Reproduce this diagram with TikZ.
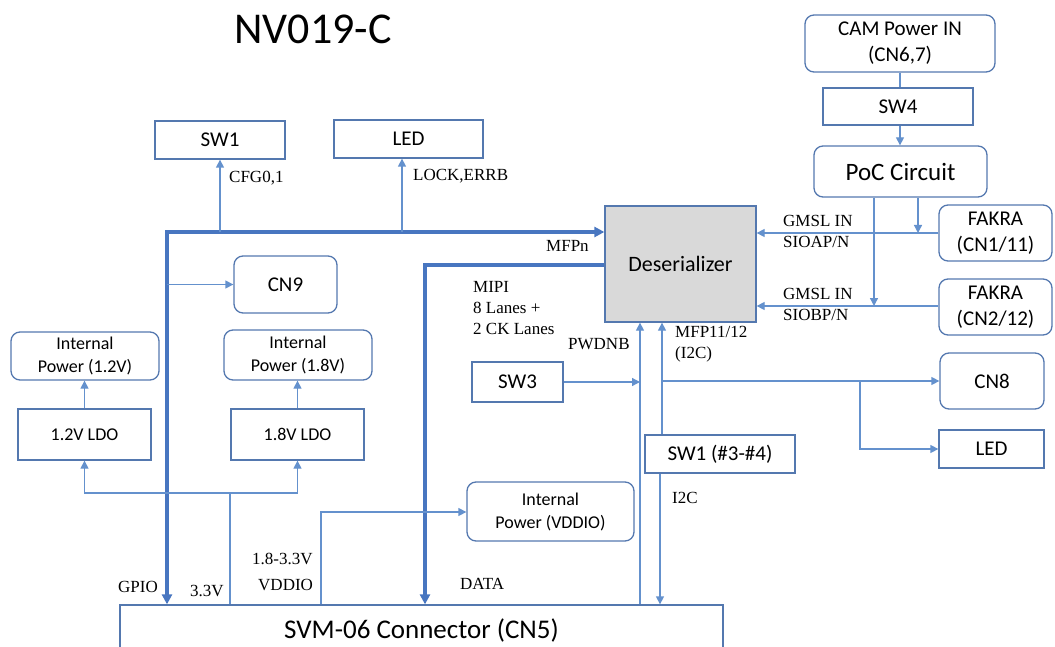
\documentclass[tikz,border=0pt]{standalone}
\usepackage{fontspec}
\setmainfont{Carlito}
\newfontfamily\tms{Liberation Serif}
\usetikzlibrary{arrows.meta,calc}
\definecolor{boxc}{RGB}{84,120,175}
\definecolor{linec}{RGB}{100,145,205}
\definecolor{thickc}{RGB}{72,118,192}
\begin{document}
\begin{tikzpicture}[x=1pt,y=-1pt,
  box/.style={draw=boxc, line width=1.3pt, font=\fontsize{21}{26}\selectfont, align=center, inner sep=0pt},
  rbox/.style={box, rounded corners=9pt},
  sbox/.style={box, font=\fontsize{18}{23}\selectfont},
  srbox/.style={rbox, font=\fontsize{18}{23}\selectfont},
  lbl/.style={font=\tms\fontsize{17}{21}\selectfont, anchor=west, inner sep=0pt, align=left},
  ln/.style={draw=linec, line width=1.3pt},
  arr/.style={ln, -{Triangle[length=8pt,width=8pt]}},
  thk/.style={draw=thickc, line width=3.5pt},
  tip/.tip={Triangle[length=10pt,width=10pt]}
]
\useasboundingbox (0,0) rectangle (1055,647);
% title
\node[font=\fontsize{44}{50}\selectfont, inner sep=0pt] (title) at (313,29) {NV019-C};
% boxes
\node[box, minimum width=130pt, minimum height=38pt] (sw1) at (220,140) {SW1};
\node[box, minimum width=149pt, minimum height=38pt] (led1) at (408.5,139) {LED};
\node[rbox, minimum width=103pt, minimum height=57pt] (cn9) at (285.5,284.5) {CN9};
\node[srbox, minimum width=148pt, minimum height=48pt] (ip12) at (85,356) {Internal\\Power (1.2V)};
\node[srbox, minimum width=148pt, minimum height=50pt] (ip18) at (298,355) {Internal\\Power (1.8V)};
\node[sbox, minimum width=133pt, minimum height=51pt] (ldo12) at (84.5,434.5) {1.2V LDO};
\node[sbox, minimum width=133pt, minimum height=51pt] (ldo18) at (297.5,434.5) {1.8V LDO};
\node[box, fill=gray!30, font=\fontsize{22}{26}\selectfont, minimum width=151pt, minimum height=116pt] (des) at (680.5,264) {Deserializer};
\node[rbox, minimum width=190pt, minimum height=57pt] (cam) at (900,43.5) {CAM Power IN\\(CN6,7)};
\node[box, minimum width=150pt, minimum height=37pt] (sw4) at (898,106.5) {SW4};
\node[rbox, font=\fontsize{25}{28}\selectfont, minimum width=173pt, minimum height=51pt] (poc) at (900.5,171.5) {PoC Circuit};
\node[rbox, minimum width=113pt, minimum height=56pt] (fak1) at (995.5,233) {FAKRA\\(CN1/11)};
\node[rbox, minimum width=113pt, minimum height=56pt] (fak2) at (995.5,307) {FAKRA\\(CN2/12)};
\node[box, minimum width=91pt, minimum height=40pt] (sw3) at (517.5,382) {SW3};
\node[rbox, minimum width=104pt, minimum height=56pt] (cn8) at (992,381) {CN8};
\node[box, minimum width=105pt, minimum height=38pt] (led2) at (991.5,449) {LED};
\node[box, minimum width=150pt, minimum height=38pt] (sw1b) at (720,454) {SW1 (\#3-\#4)};
\node[srbox, minimum width=167pt, minimum height=59pt] (ipv) at (550.5,511.5) {Internal\\Power (VDDIO)};
\node[box, font=\fontsize{27}{30}\selectfont, minimum width=603pt, minimum height=50pt] (svm) at (421.5,630) {SVM-06 Connector (CN5)};
% coordinates
\coordinate (bus) at (167,232);
\coordinate (ledtap) at (402,232);
\coordinate (mipi) at (425,265);
\coordinate (v33) at (230,493);
\coordinate (vio) at (321,512);
\coordinate (pwd) at (640,382);
\coordinate (mfp) at (662,381);
\coordinate (br) at (860,381);
\coordinate (i2cx) at (660,0);
\coordinate (pa) at (918,233);
\coordinate (pb) at (874,306);
% thick buses
\draw[thk, {tip}-{tip}] (svm.north -| bus) -- (bus) -- (des.west |- bus);
\draw[thk, -{tip}] (des.west |- mipi) -- (mipi) -- (mipi |- svm.north);
% thin connectors
\draw[arr] (bus -| sw1.south) -- (sw1.south);
\draw[arr] (ledtap) -- (ledtap |- led1.south);
\draw[arr] (bus |- cn9.west) -- (cn9.west);
\draw[arr] (v33 |- svm.north) -- (v33) -| (ldo12.south);
\draw[arr] (v33) -| (ldo18.south);
\draw[arr] (ldo12.north) -- (ldo12.north |- ip12.south);
\draw[arr] (ldo18.north) -- (ldo18.north |- ip18.south);
\draw[arr] (vio |- svm.north) -- (vio) -- (ipv.west |- vio);
\draw[arr] (pwd |- svm.north) -- (pwd |- des.south);
\draw[arr] (sw3.east) -- (pwd);
\draw[arr] (mfp |- sw1b.north) -- (mfp |- des.south);
\draw[arr] (mfp) -- (cn8.west |- mfp);
\draw[arr] (br) |- (led2.west);
\draw[arr] (sw1b.south -| i2cx) -- (svm.north -| i2cx);
\draw[arr] (fak1.west) -- (fak1.west -| des.east);
\draw[arr] (fak2.west |- pb) -- (pb -| des.east);
\draw[arr] (poc.south -| pa) -- (pa);
\draw[arr] (poc.south -| pb) -- (pb);
\draw[ln] (cam.south) -- (cam.south |- sw4.north);
\draw[arr] (cam.south |- sw4.south) -- (cam.south |- poc.north);
% labels
\node[lbl] (l1) at (229,178) {CFG0,1};
\node[lbl] (l2) at (413,176) {LOCK,ERRB};
\node[lbl] (l3) at (546,246) {MFPn};
\node[lbl] (l4) at (473,308) {MIPI\\8 Lanes +\\2 CK Lanes};
\node[lbl] (l5) at (783,231.5) {GMSL IN\\SIOAP/N};
\node[lbl] (l6) at (783,304.5) {GMSL IN\\SIOBP/N};
\node[lbl] (l7) at (568,344) {PWDNB};
\node[lbl] (l8) at (675,344) {MFP11/12\\(I2C)};
\node[lbl] (l9) at (672,498) {I2C};
\node[lbl] (l10) at (118,587) {GPIO};
\node[lbl] (l11) at (190,591) {3.3V};
\node[lbl] (l12) at (252,559) {1.8-3.3V};
\node[lbl] (l13) at (258,585) {VDDIO};
\node[lbl] (l14) at (460,584) {DATA};
\end{tikzpicture}
\end{document}
